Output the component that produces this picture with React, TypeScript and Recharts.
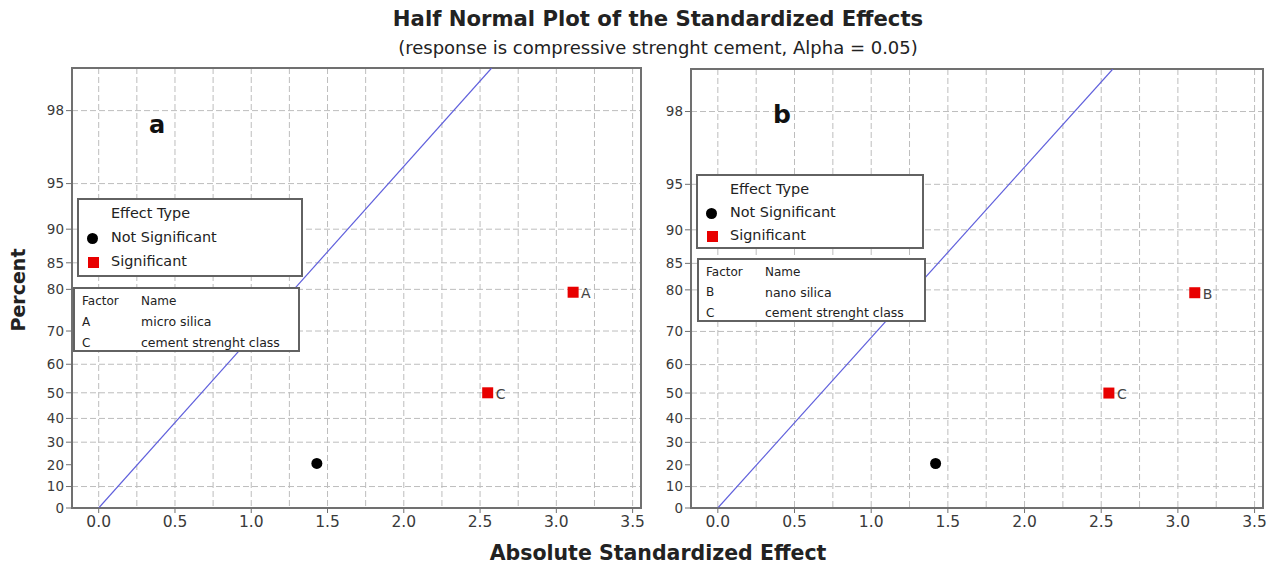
import React from 'react';
import { ComposedChart, Line, Scatter, XAxis, YAxis, CartesianGrid, ReferenceArea } from 'recharts';

// axis ticks (percent axis is on the half-normal probability scale)
const percentTicks = [0, 10, 20, 30, 40, 50, 60, 70, 80, 85, 90, 95, 98];
const effectTicks = [0, 0.5, 1, 1.5, 2, 2.5, 3, 3.5];
const effectGrid = [0, 0.25, 0.5, 0.75, 1, 1.25, 1.5, 1.75, 2, 2.25, 2.5, 2.75, 3, 3.25, 3.5];
const effectRange = [-0.175, 3.555];
const topPercent = 99;

// panel a
const termsA = ['', 'C', 'A'];
const effectsA = [1.43, 2.55, 3.11];
const percentsA = [20.6, 50, 79.4];
const significantA = [false, true, true];
const factorsA = [['A', 'micro silica'], ['C', 'cement strenght class']];

// panel b
const termsB = ['', 'C', 'B'];
const effectsB = [1.42, 2.55, 3.11];
const percentsB = [20.6, 50, 79.4];
const significantB = [false, true, true];
const factorsB = [['B', 'nano silica'], ['C', 'cement strenght class']];

// Lenth's pseudo standard error used for the reference line
const lenthPse = 1.0;

const FONT = '"DejaVu Sans", sans-serif';
const AXIS = '#707070';

// Acklam's inverse normal CDF
function invNorm(p: number): number {
  const a = [-3.969683028665376e1, 2.209460984245205e2, -2.759285104469687e2, 1.38357751867269e2, -3.066479806614716e1, 2.506628277459239];
  const b = [-5.447609879822406e1, 1.615858368580409e2, -1.556989798598866e2, 6.680131188771972e1, -1.328029230792432e1];
  const c = [-7.784894002430293e-3, -3.223964580411365e-1, -2.400758277161838, -2.549732539343734, 4.374664141464968, 2.938163982698783];
  const d = [7.784695709041462e-3, 3.224671290700398e-1, 2.445134137142996, 3.754408661907416];
  const pLow = 0.02425;
  if (p < pLow) {
    const q = Math.sqrt(-2 * Math.log(p));
    return (((((c[0] * q + c[1]) * q + c[2]) * q + c[3]) * q + c[4]) * q + c[5]) / ((((d[0] * q + d[1]) * q + d[2]) * q + d[3]) * q + 1);
  }
  if (p <= 1 - pLow) {
    const q = p - 0.5;
    const r = q * q;
    return ((((((a[0] * r + a[1]) * r + a[2]) * r + a[3]) * r + a[4]) * r + a[5]) * q) / (((((b[0] * r + b[1]) * r + b[2]) * r + b[3]) * r + b[4]) * r + 1);
  }
  const q = Math.sqrt(-2 * Math.log(1 - p));
  return -(((((c[0] * q + c[1]) * q + c[2]) * q + c[3]) * q + c[4]) * q + c[5]) / ((((d[0] * q + d[1]) * q + d[2]) * q + d[3]) * q + 1);
}

const halfNormZ = (pct: number) => invNorm(0.5 + pct / 200);
const zTicks = percentTicks.map(halfNormZ);
const zTop = halfNormZ(topPercent);

const percentLabel = (v: number) => {
  const i = zTicks.findIndex((t) => Math.abs(t - v) < 1e-6);
  return i >= 0 ? String(percentTicks[i]) : '';
};

const Dot = (props: any) => <circle cx={props.cx} cy={props.cy} r={5.5} fill="#000" />;

const Square = (props: any) => (
  <g>
    <rect x={props.cx - 5.5} y={props.cy - 5.5} width={11} height={11} fill="#e80000" />
    <text x={props.cx + 8} y={props.cy + 6} fontSize={14} fill="#444">
      {props.payload.term}
    </text>
  </g>
);

interface PanelProps {
  terms: string[];
  effects: number[];
  percents: number[];
  significant: boolean[];
  width: number;
  margin: { top: number; right: number; left: number; bottom: number };
}

const HalfNormalPanel = ({ terms, effects, percents, significant, width, margin }: PanelProps) => {
  const points = terms.map((term, i) => ({ term, x: effects[i], z: halfNormZ(percents[i]) }));
  const notSig = points.filter((_, i) => !significant[i]);
  const sig = points.filter((_, i) => significant[i]);
  const fit = [
    { x: 0, z: 0 },
    { x: zTop * lenthPse, z: zTop },
  ];
  return (
    <ComposedChart width={width} height={566} margin={margin}>
      <CartesianGrid verticalValues={effectGrid} horizontalValues={zTicks} stroke="#bdbdbd" strokeDasharray="6 3" />
      <XAxis
        type="number"
        dataKey="x"
        domain={effectRange}
        ticks={effectTicks}
        allowDataOverflow
        tickFormatter={(v) => Number(v).toFixed(1)}
        height={30}
        tickSize={5}
        tickMargin={3}
        stroke={AXIS}
        tick={{ fontSize: 15.5, fill: '#3a3a3a' }}
      />
      <YAxis
        type="number"
        dataKey="z"
        domain={[0, zTop]}
        ticks={zTicks}
        allowDataOverflow
        tickFormatter={percentLabel}
        width={40}
        tickSize={6}
        tickMargin={2}
        stroke={AXIS}
        tick={{ fontSize: 13.5, fill: '#3a3a3a' }}
      />
      <ReferenceArea x1={effectRange[0]} x2={effectRange[1]} y1={0} y2={zTop} fill="none" stroke={AXIS} strokeWidth={2} strokeOpacity={1} />
      <Line data={fit} dataKey="z" stroke="#6060dc" strokeWidth={1.2} dot={false} isAnimationActive={false} />
      <Scatter data={notSig} dataKey="z" shape={Dot} isAnimationActive={false} />
      <Scatter data={sig} dataKey="z" shape={Square} isAnimationActive={false} />
    </ComposedChart>
  );
};

interface LegendProps {
  left: number;
  top: number;
  width: number;
  height: number;
}

const Box = ({ left, top, width, height, children }: LegendProps & { children: React.ReactNode }) => (
  <div
    style={{
      position: 'absolute',
      left,
      top,
      width: width - 4,
      height: height - 4,
      border: '2px solid #626262',
      background: '#fff',
    }}
  >
    {children}
  </div>
);

const Txt = ({ x, y, size, children }: { x: number; y: number; size: number; children: React.ReactNode }) => (
  <div style={{ position: 'absolute', left: x, top: y - size * 0.62, fontSize: size, lineHeight: 1.2, color: '#222', whiteSpace: 'nowrap' }}>
    {children}
  </div>
);

const EffectLegend = ({ left, top, width, height, rowGap }: LegendProps & { rowGap: number }) => (
  <Box left={left} top={top} width={width} height={height}>
    <Txt x={32} y={14} size={14.4}>Effect Type</Txt>
    <div style={{ position: 'absolute', left: 8, top: 14 + rowGap - 5.5, width: 11, height: 11, borderRadius: '50%', background: '#000' }} />
    <Txt x={32} y={14 + rowGap} size={14.4}>Not Significant</Txt>
    <div style={{ position: 'absolute', left: 9, top: 14 + rowGap * 2 - 5.5, width: 11, height: 11, background: '#e80000' }} />
    <Txt x={32} y={14 + rowGap * 2} size={14.4}>Significant</Txt>
  </Box>
);

const FactorLegend = ({ left, top, width, height, rowGap, factors }: LegendProps & { rowGap: number; factors: string[][] }) => (
  <Box left={left} top={top} width={width} height={height}>
    <Txt x={7} y={12} size={12}>Factor</Txt>
    <Txt x={66} y={12} size={12}>Name</Txt>
    {factors.map(([f, name], i) => (
      <React.Fragment key={f}>
        <Txt x={7} y={12 + rowGap * (i + 1)} size={12}>{f}</Txt>
        <Txt x={66} y={12 + rowGap * (i + 1)} size={12.5}>{name}</Txt>
      </React.Fragment>
    ))}
  </Box>
);

export default function App() {
  return (
    <div style={{ position: 'absolute', left: 0, top: 0, width: 1279, height: 566, background: '#fff', fontFamily: FONT, overflow: 'hidden' }}>
      <div style={{ position: 'absolute', left: 658, top: 18, transform: 'translate(-50%, -50%)', whiteSpace: 'nowrap', fontSize: 21.2, fontWeight: 'bold', color: '#222' }}>
        Half Normal Plot of the Standardized Effects
      </div>
      <div style={{ position: 'absolute', left: 658, top: 47, transform: 'translate(-50%, -50%)', whiteSpace: 'nowrap', fontSize: 18, color: '#222' }}>
        (response is compressive strenght cement, Alpha = 0.05)
      </div>

      <div style={{ position: 'absolute', left: 0, top: 0 }}>
        <HalfNormalPanel
          terms={termsA}
          effects={effectsA}
          percents={percentsA}
          significant={significantA}
          width={650}
          margin={{ top: 68, right: 9, left: 32, bottom: 28 }}
        />
      </div>
      <div style={{ position: 'absolute', left: 640, top: 0 }}>
        <HalfNormalPanel
          terms={termsB}
          effects={effectsB}
          percents={percentsB}
          significant={significantB}
          width={639}
          margin={{ top: 69, right: 16, left: 11, bottom: 28 }}
        />
      </div>

      <div style={{ position: 'absolute', left: 149, top: 111, fontSize: 24, fontWeight: 'bold', color: '#111' }}>a</div>
      <div style={{ position: 'absolute', left: 773, top: 100, fontSize: 25, fontWeight: 'bold', color: '#111' }}>b</div>

      <EffectLegend left={77} top={198} width={226} height={79} rowGap={24} />
      <FactorLegend left={73} top={287} width={227} height={65} rowGap={21} factors={factorsA} />
      <EffectLegend left={696} top={174} width={228} height={75} rowGap={23} />
      <FactorLegend left={697} top={258} width={229} height={64} rowGap={20.5} factors={factorsB} />

      <div style={{ position: 'absolute', left: 18, top: 290, transform: 'translate(-50%, -50%) rotate(-90deg)', fontSize: 19, fontWeight: 'bold', color: '#222' }}>
        Percent
      </div>
      <div style={{ position: 'absolute', left: 658, top: 553, transform: 'translate(-50%, -50%)', fontSize: 20.5, fontWeight: 'bold', color: '#222', whiteSpace: 'nowrap' }}>
        Absolute Standardized Effect
      </div>
    </div>
  );
}
